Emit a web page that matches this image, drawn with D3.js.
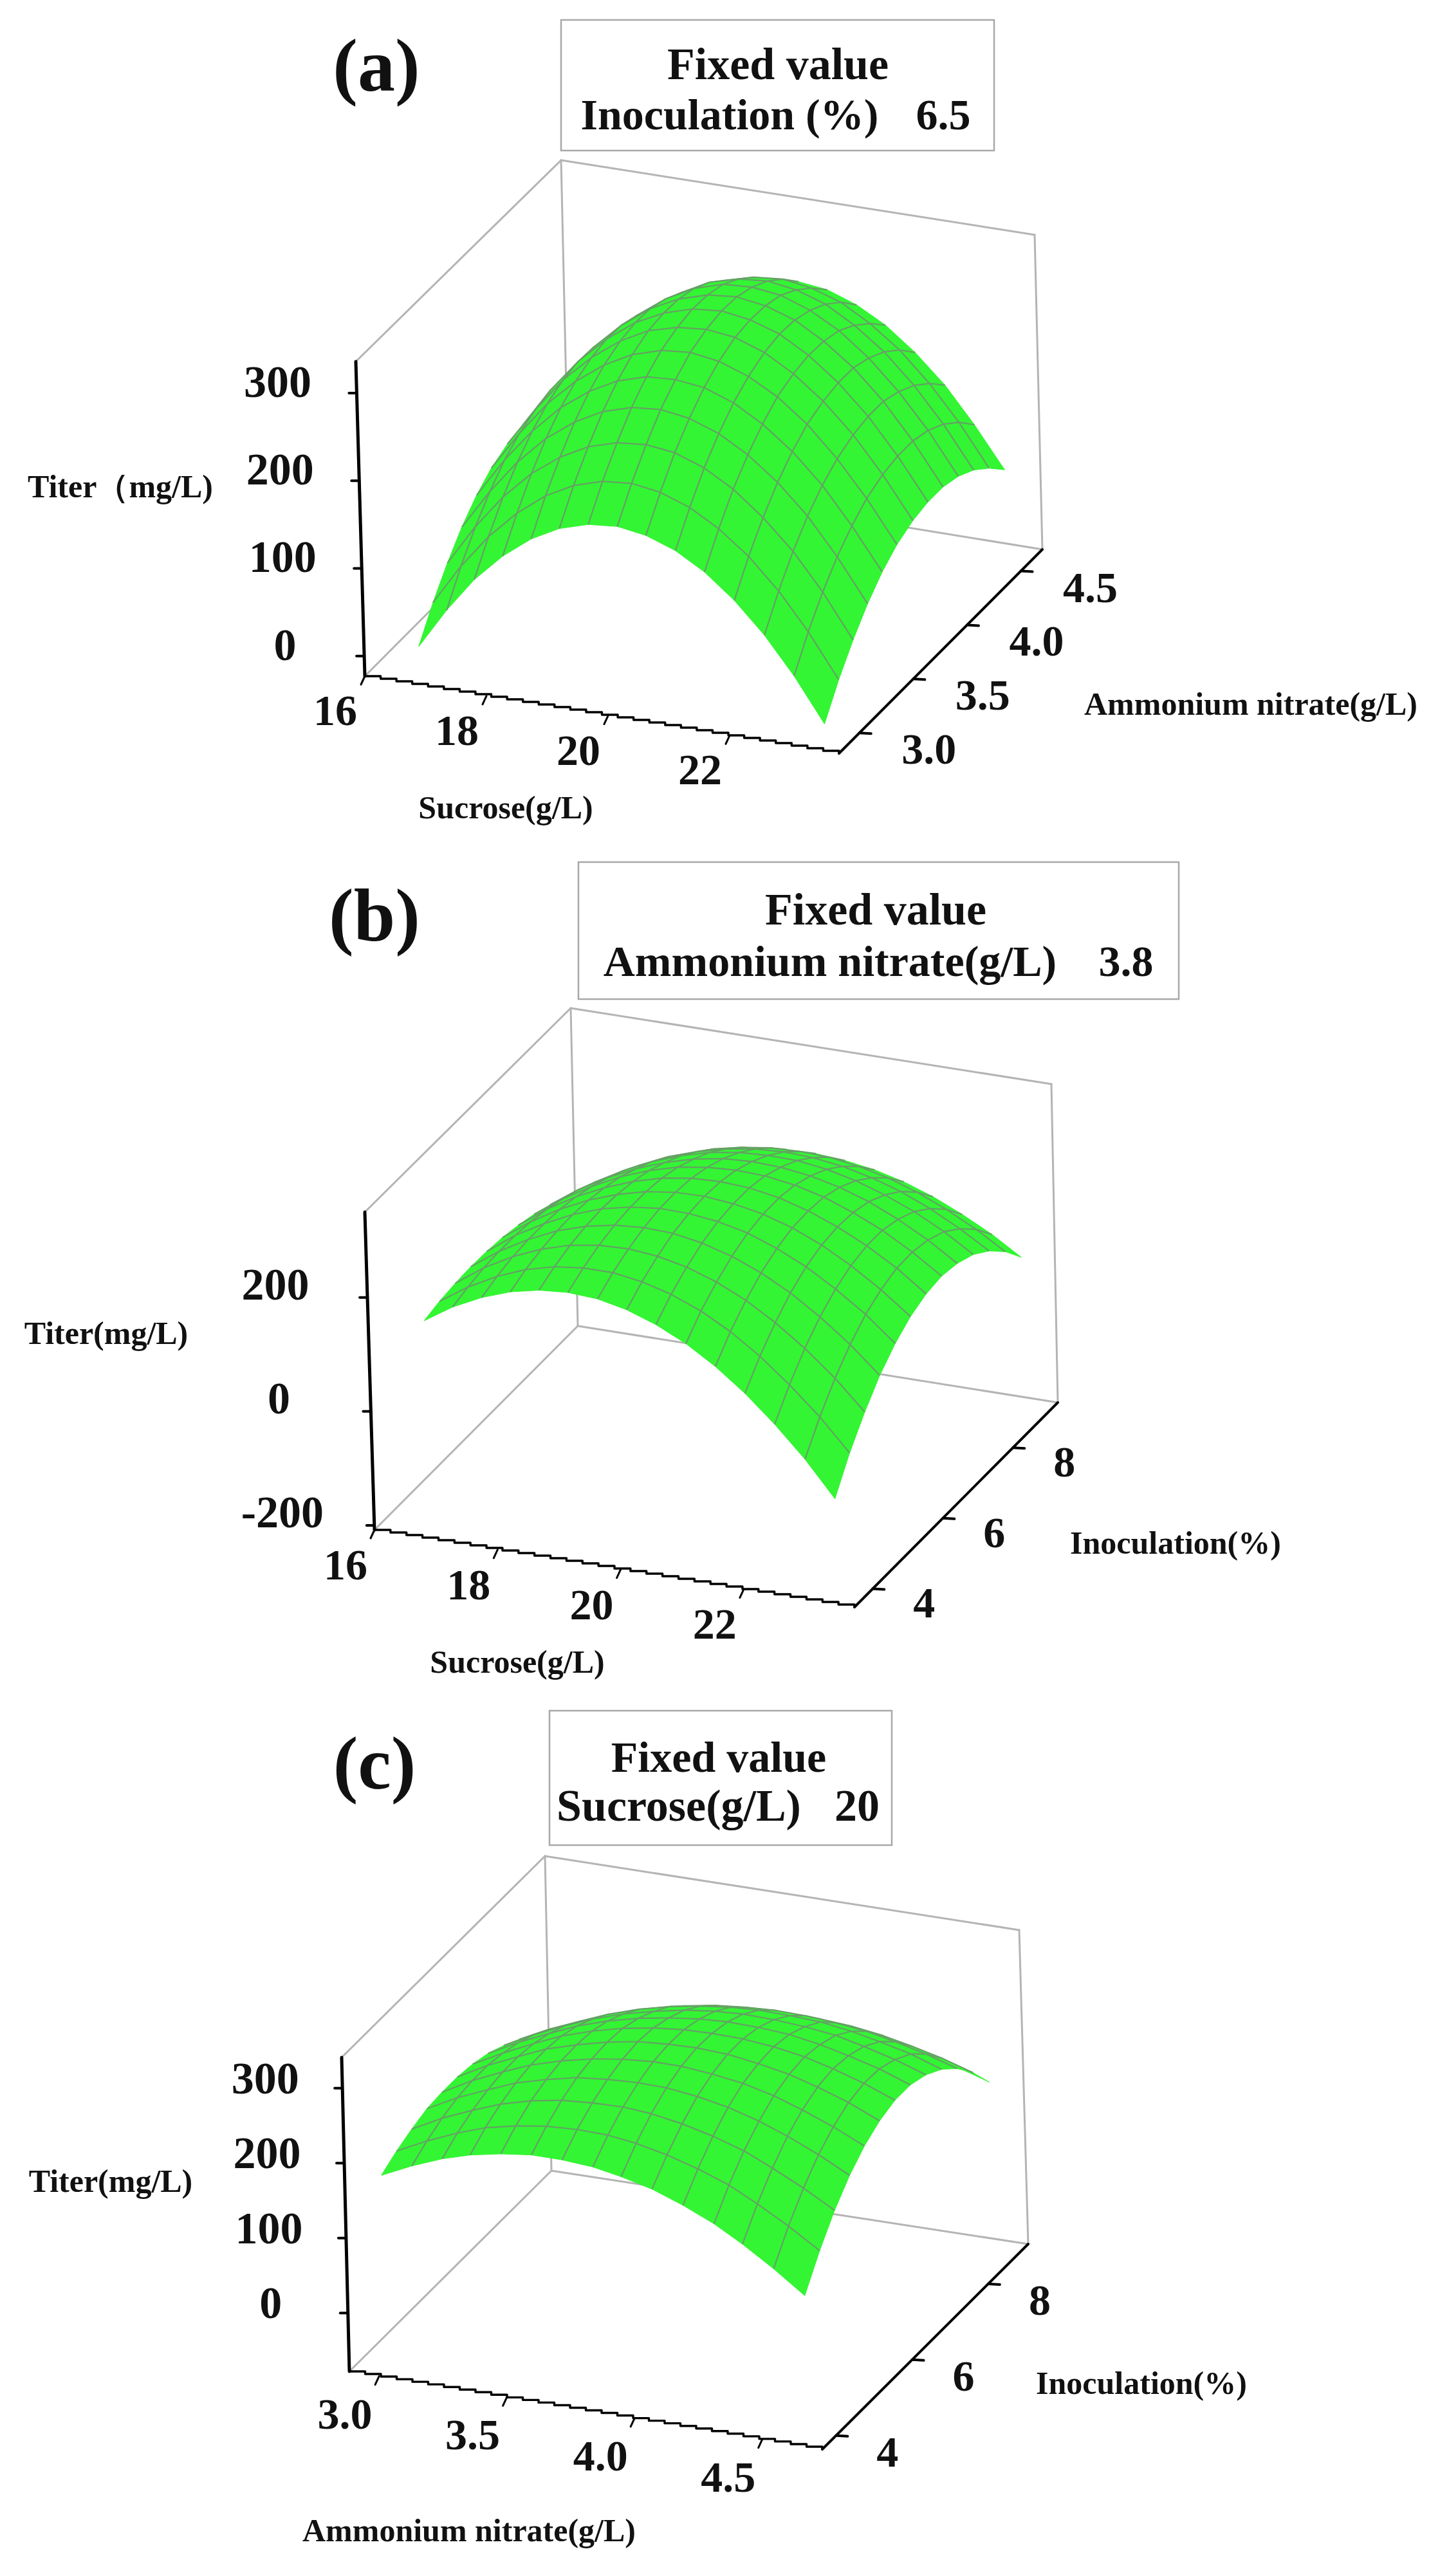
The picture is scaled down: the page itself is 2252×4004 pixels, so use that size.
<!DOCTYPE html>
<html><head><meta charset="utf-8"><style>html,body{margin:0;padding:0;background:#fff}svg{display:block}text{font-family:"Liberation Serif",serif;font-weight:bold;fill:#111}</style>
<script src="https://cdn.jsdelivr.net/npm/d3@7"></script></head><body><script>
const sucroseA=[16.74,17.22,17.69,18.17,18.65,19.12,19.60,20.08,20.55,21.03,21.50,21.98,22.46,22.93,23.41];
const ammoniumA=[2.90,3.04,3.18,3.32,3.46,3.60,3.75,3.89,4.03,4.17,4.31,4.45,4.59];
const titerA=[
[8,55,95,127,152,169,179,182,177,165,146,119,85,44,-5],
[41,88,127,159,184,201,211,214,209,197,178,152,118,77,28],
[69,116,155,187,211,228,238,241,237,225,206,179,146,105,56],
[93,139,178,210,234,251,261,264,259,247,228,202,169,128,80],
[112,158,196,228,252,269,279,281,277,265,246,220,187,146,99],
[126,171,210,241,265,282,292,295,290,278,260,234,200,160,113],
[135,180,219,250,274,291,300,303,299,287,268,242,209,169,122],
[139,185,223,254,278,294,304,307,302,291,272,246,213,173,126],
[139,184,222,253,277,293,303,306,301,290,271,246,213,173,126],
[134,179,217,247,271,288,298,300,296,284,266,240,207,168,121],
[124,169,207,237,261,278,287,290,285,274,255,230,197,158,111],
[109,154,192,222,246,263,272,275,270,259,240,215,182,143,96],
[90,135,172,203,226,243,252,255,251,239,221,195,163,123,77]];
const sucroseB=[16.74,17.21,17.69,18.16,18.63,19.10,19.58,20.05,20.52,21.00,21.47,21.94,22.41,22.89,23.36];
const inoculationB=[3.77,4.21,4.66,5.10,5.55,5.99,6.44,6.88,7.32,7.77,8.21,8.66,9.10];
const titerB=[
[154,186,211,229,240,244,241,230,212,187,155,116,70,17,-44],
[161,194,221,241,254,260,260,252,238,217,189,154,112,64,9],
[165,200,228,249,264,272,274,269,258,240,216,185,148,104,53],
[167,202,231,254,270,280,284,282,273,258,237,210,176,136,90],
[166,202,231,255,273,284,290,289,283,271,252,228,197,161,118],
[163,199,229,253,271,284,291,292,287,277,261,239,211,177,138],
[157,193,223,247,266,280,288,290,287,278,263,243,218,187,150],
[149,184,214,239,258,272,280,283,281,273,260,241,218,188,154],
[138,173,202,226,245,259,268,271,269,262,250,233,210,182,149],
[125,158,187,211,229,243,251,254,253,246,234,217,196,169,137],
[109,141,169,192,209,222,230,233,231,224,212,196,174,147,116],
[91,122,148,169,186,197,204,206,204,196,184,167,145,118,87],
[70,99,123,143,158,168,174,175,171,163,150,132,109,82,50]];
const ammoniumC=[2.98,3.10,3.22,3.33,3.45,3.57,3.69,3.81,3.92,4.04,4.16,4.28,4.39,4.51,4.63];
const inoculationC=[3.96,4.37,4.78,5.19,5.59,6.00,6.41,6.82,7.23,7.64,8.04,8.45,8.86];
const titerC=[
[173,192,208,219,227,232,232,229,222,212,197,179,158,132,103],
[185,205,222,235,244,250,252,251,246,237,225,210,191,168,142],
[194,215,232,246,257,264,267,268,265,258,248,235,218,198,175],
[201,222,239,254,265,274,278,280,279,274,266,254,240,222,201],
[203,225,243,258,270,279,285,288,288,284,278,268,255,239,220],
[203,225,243,259,271,281,288,291,292,290,284,276,265,251,233],
[200,221,240,256,269,279,286,290,291,290,286,279,269,256,240],
[194,215,233,249,262,272,279,284,286,285,282,275,266,255,240],
[184,205,223,238,251,261,269,274,276,275,272,267,258,247,233],
[172,192,209,224,237,247,254,259,261,260,258,252,244,234,220],
[156,175,192,206,218,228,235,239,241,240,237,232,224,214,201],
[137,155,171,185,196,205,211,215,216,215,212,206,198,188,175],
[115,132,147,160,170,177,183,186,187,185,181,175,166,155,142]];
const sucroseTicks=[16,18,20,22],ammoniumTicks=[3,3.5,4,4.5],inoculationTicks=[4,6,8];
const zTicksA=[0,100,200,300],zTicksB=[-200,0,200],zTicksC=[0,100,200,300];

const panels=[
{name:"(a)",corners:{FL:[567,1051],FR:[1304,1171],BR:[1620,854],BL:[883,734],tFL:[553,562],tBL:[872,249],tBR:[1608,365]},
 xDom:[16,23.8],yDom:[2.81,4.7],zDom:[-23,336],
 xTicks:sucroseTicks,xFmt:d3.format("d"),yTicks:ammoniumTicks,yFmt:d3.format(".1f"),zTicks:zTicksA,
 xGrid:sucroseA,yGrid:ammoniumA,z:titerA,
 zOff:[-123,6],xOff:[-46,76],yOff:[108,48],
 head:{x:585,y:141},box:[872,31,1545,234],
 t1:{text:"Fixed value",x:1209,y:123,size:70},
 t2:{text:"Inoculation (%)",x:1134,y:201,size:68},t3:{text:"6.5",x:1466,y:201,size:68},
 zt:{text:"Titer（mg/L)",x:187,y:773},xt:{text:"Sucrose(g/L)",x:786,y:1272},yt:{text:"Ammonium nitrate(g/L)",x:1944,y:1111}},
{name:"(b)",corners:{FL:[582,2378],FR:[1328,2498],BR:[1644,2180],BL:[898,2061],tFL:[567,1884],tBL:[887,1567],tBR:[1634,1685]},
 xDom:[16,23.8],yDom:[3.48,9.28],zDom:[-208,350],
 xTicks:sucroseTicks,xFmt:d3.format("d"),yTicks:inoculationTicks,yFmt:d3.format("d"),zTicks:zTicksB,
 xGrid:sucroseB,yGrid:inoculationB,z:titerB,
 zOff:[-143,3],xOff:[-45,77],yOff:[80,45],
 head:{x:582,y:1462},box:[899,1340,1832,1553],
 t1:{text:"Fixed value",x:1361,y:1437,size:70},
 t2:{text:"Ammonium nitrate(g/L)",x:1290,y:1517,size:68},t3:{text:"3.8",x:1750,y:1517,size:68},
 zt:{text:"Titer(mg/L)",x:165,y:2089},xt:{text:"Sucrose(g/L)",x:804,y:2600},yt:{text:"Inoculation(%)",x:1827,y:2415}},
{name:"(c)",corners:{FL:[543,3686],FR:[1278,3807],BR:[1598,3488],BL:[857,3374],tFL:[531,3198],tBL:[847,2885],tBR:[1584,3000]},
 xDom:[2.884,4.735],yDom:[3.64,9.05],zDom:[-78,341],
 xTicks:ammoniumTicks,xFmt:d3.format(".1f"),yTicks:inoculationTicks,yFmt:d3.format("d"),zTicks:zTicksC,
 xGrid:ammoniumC,yGrid:inoculationC,z:titerC,
 zOff:[-120,8],xOff:[-53,81],yOff:[80,48],
 head:{x:582,y:2780},box:[854,2659,1386,2868],
 t1:{text:"Fixed value",x:1117,y:2754,size:68},
 t2:{text:"Sucrose(g/L)",x:1055,y:2830,size:70},t3:{text:"20",x:1332,y:2830,size:70},
 zt:{text:"Titer(mg/L)",x:172,y:3407},xt:{text:"Ammonium nitrate(g/L)",x:729,y:3950},yt:{text:"Inoculation(%)",x:1774,y:3721}}
];
const svg=d3.select("body").append("svg").attr("width",2252).attr("height",4004);
svg.append("rect").attr("width",2252).attr("height",4004).attr("fill","#fff");
const FILL="#33f533",MESH="#66a066",FRAME="#b4b4b4";
panels.forEach(p=>{
 const g=svg.append("g"),c=p.corners,nu=p.xGrid.length,nv=p.yGrid.length;
 const sx=d3.scaleLinear().domain(p.xDom).range([0,1]),sy=d3.scaleLinear().domain(p.yDom).range([0,1]),sz=d3.scaleLinear().domain(p.zDom).range([0,1]);
 const tFR=[c.tFL[0]+c.tBR[0]-c.tBL[0],c.tFL[1]+c.tBR[1]-c.tBL[1]];
 const bil=(a,b,d,e,u,v)=>[0,1].map(k=>(1-v)*((1-u)*a[k]+u*b[k])+v*((1-u)*d[k]+u*e[k]));
 const P=(x,y,z)=>{const u=sx(x),v=sy(y),w=sz(z),f=bil(c.FL,c.FR,c.BL,c.BR,u,v),t=bil(c.tFL,tFR,c.tBL,c.tBR,u,v);return [f[0]+(t[0]-f[0])*w,f[1]+(t[1]-f[1])*w];};
 const ln=(a,b,col,w)=>g.append("line").attr("x1",a[0]).attr("y1",a[1]).attr("x2",b[0]).attr("y2",b[1]).attr("stroke",col).attr("stroke-width",w).attr("stroke-linecap","round");
 ln(c.tFL,c.tBL,FRAME,3);ln(c.tBL,c.tBR,FRAME,3);ln(c.tBR,c.BR,FRAME,3);ln(c.tBL,c.BL,FRAME,3);ln(c.BL,c.BR,FRAME,3);ln(c.BL,c.FL,FRAME,3);
 const [x0,x1]=p.xDom,[y0]=p.yDom,[z0]=p.zDom;
 for(let j=nv-2;j>=0;j--)for(let i=0;i<nu-1;i++){
  const a=P(p.xGrid[i],p.yGrid[j],p.z[j][i]),b=P(p.xGrid[i+1],p.yGrid[j],p.z[j][i+1]),d=P(p.xGrid[i+1],p.yGrid[j+1],p.z[j+1][i+1]),e=P(p.xGrid[i],p.yGrid[j+1],p.z[j+1][i]);
  g.append("path").attr("d",d3.line()([a,b,d,e])+"Z").attr("fill",FILL).attr("stroke",FILL).attr("stroke-width",1);
  const m=d3.path();if(i>0){m.moveTo(a[0],a[1]);m.lineTo(e[0],e[1]);}
  if(j<nv-2){m.moveTo(e[0],e[1]);m.lineTo(d[0],d[1]);}
  g.append("path").attr("d",m.toString()).attr("fill","none").attr("stroke",MESH).attr("stroke-width",2.2);
 }
 ln(c.tFL,c.FL,"#000",5);ln(c.FR,c.BR,"#000",4);
 const stair=d3.range(31).map(i=>[c.FL[0]+(c.FR[0]-c.FL[0])*i/30,c.FL[1]+(c.FR[1]-c.FL[1])*i/30]);
 g.append("path").attr("d",d3.line().curve(d3.curveStepAfter)(stair)).attr("fill","none").attr("stroke","#000").attr("stroke-width",3.4).attr("stroke-linejoin","round");
 const txt=(t,x,y,size)=>g.append("text").attr("x",x).attr("y",y).attr("text-anchor","middle").attr("font-size",size).text(t);
 p.zTicks.forEach(t=>{const q=P(x0,y0,t);ln(q,[q[0]-12,q[1]],"#000",4);txt(t,q[0]+p.zOff[0],q[1]+p.zOff[1],70);});
 p.xTicks.forEach(t=>{const q=P(t,y0,z0);ln(q,[q[0]-6,q[1]+13],"#000",3);txt(p.xFmt(t),q[0]+p.xOff[0],q[1]+p.xOff[1],68);});
 p.yTicks.forEach(t=>{const q=P(x1,t,z0);ln(q,[q[0]+18,q[1]+1],"#000",4);txt(p.yFmt(t),q[0]+p.yOff[0],q[1]+p.yOff[1],68);});
 txt(p.name,p.head.x,p.head.y,116);
 g.append("rect").attr("x",p.box[0]).attr("y",p.box[1]).attr("width",p.box[2]-p.box[0]).attr("height",p.box[3]-p.box[1]).attr("fill","none").attr("stroke","#a8a8a8").attr("stroke-width",2.5);
 [p.t1,p.t2,p.t3].forEach(t=>txt(t.text,t.x,t.y,t.size));
 [p.zt,p.xt,p.yt].forEach(t=>txt(t.text,t.x,t.y,50));
});
</script></body></html>
